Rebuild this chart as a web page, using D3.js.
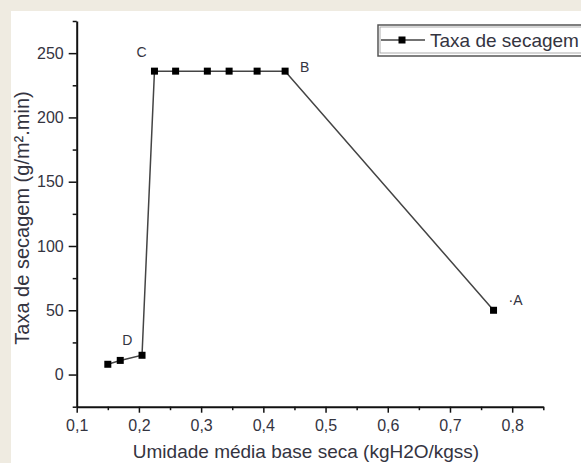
<!DOCTYPE html>
<html>
<head>
<meta charset="utf-8">
<script src="https://cdn.jsdelivr.net/npm/d3@7"></script>
<style>
  body { margin: 0; background: #efebe1; }
  svg { display: block; font-family: Arial, "Liberation Sans", sans-serif; }
  .axis path, .axis line { stroke: #111; }
  .axis text { fill: #34343f; font-size: 16px; }
</style>
</head>
<body>
<div id="plot"></div>
<script>
// Data
const moisture = [0.15, 0.17, 0.205, 0.225, 0.259, 0.31, 0.345, 0.39, 0.435, 0.77];
const rate = [8, 11, 15, 236, 236, 236, 236, 236, 236, 50];
const xTicks = [0.1, 0.2, 0.3, 0.4, 0.5, 0.6, 0.7, 0.8];
const xMinor = [0.15, 0.25, 0.35, 0.45, 0.55, 0.65, 0.75, 0.85];
const yTicks = [0, 50, 100, 150, 200, 250];
const yMinor = [-25, 25, 75, 125, 175, 225, 275];
// point labels: letter, index of the point it sits next to
const pointLabels = [
  { text: "C", idx: 3, dx: -13, dy: -14, anchor: "middle" },
  { text: "B", idx: 8, dx: 15, dy: 1, anchor: "start" },
  { text: "·A", idx: 9, dx: 15, dy: -5, anchor: "start" },
  { text: "D", idx: 1, dx: 7, dy: -15, anchor: "middle" }
];
const seriesName = "Taxa de secagem";

const W = 581, H = 463;
const svg = d3.select("#plot").append("svg")
  .attr("width", W).attr("height", H);

// white panel
svg.append("rect")
  .attr("x", 11).attr("y", 11)
  .attr("width", W - 11).attr("height", H - 11)
  .attr("fill", "#fff");

const x = d3.scaleLinear().domain([0.1, 0.85]).range([76.7, 543.3]);
const y = d3.scaleLinear().domain([-25, 275]).range([406.7, 21]);

const comma = d3.formatLocale({ decimal: ",", thousands: ".", grouping: [3], currency: ["", ""] });
const fmtX = comma.format(".1f");

// minor ticks
svg.append("g")
  .attr("class", "axis")
  .attr("transform", `translate(0,${y(-25)})`)
  .call(d3.axisBottom(x).tickValues(xMinor).tickSize(3.5).tickFormat(""))
  .call(g => g.select(".domain").remove())
  .selectAll("line").attr("stroke-width", 1.5);

svg.append("g")
  .attr("class", "axis")
  .attr("transform", `translate(${x(0.1)},0)`)
  .call(d3.axisLeft(y).tickValues(yMinor).tickSize(4).tickFormat(""))
  .call(g => g.select(".domain").remove())
  .selectAll("line").attr("stroke-width", 1.5);

// major axes
const xAxis = svg.append("g")
  .attr("class", "axis")
  .attr("transform", `translate(0,${y(-25)})`)
  .call(d3.axisBottom(x).tickValues(xTicks).tickSize(6).tickSizeOuter(0).tickPadding(7).tickFormat(fmtX));
xAxis.select(".domain").attr("stroke-width", 2);
xAxis.selectAll("line").attr("stroke-width", 1.5);

const yAxis = svg.append("g")
  .attr("class", "axis")
  .attr("transform", `translate(${x(0.1)},0)`)
  .call(d3.axisLeft(y).tickValues(yTicks).tickSize(8).tickSizeOuter(0).tickPadding(5));
yAxis.select(".domain").attr("stroke-width", 2);
yAxis.selectAll("line").attr("stroke-width", 1.5);

// axis titles
svg.append("text")
  .attr("x", 306).attr("y", 458)
  .attr("text-anchor", "middle")
  .attr("fill", "#34343f")
  .style("font-size", "19px")
  .text("Umidade média base seca (kgH2O/kgss)");

svg.append("text")
  .attr("transform", "translate(29,218) rotate(-90)")
  .attr("text-anchor", "middle")
  .attr("fill", "#34343f")
  .style("font-size", "20px")
  .text("Taxa de secagem (g/m².min)");

// line + markers
const pts = moisture.map((m, i) => ({ m, r: rate[i] }));
svg.append("path")
  .datum(pts)
  .attr("fill", "none")
  .attr("stroke", "#444")
  .attr("stroke-width", 1.5)
  .attr("d", d3.line().x(d => x(d.m)).y(d => y(d.r)));

const ms = 7;
svg.selectAll(".pt")
  .data(pts)
  .enter().append("rect")
  .attr("class", "pt")
  .attr("x", d => x(d.m) - ms / 2)
  .attr("y", d => y(d.r) - ms / 2)
  .attr("width", ms).attr("height", ms)
  .attr("fill", "#000");

// point letters
svg.selectAll(".lbl")
  .data(pointLabels)
  .enter().append("text")
  .attr("class", "lbl")
  .attr("x", d => x(moisture[d.idx]) + d.dx)
  .attr("y", d => y(rate[d.idx]) + d.dy)
  .attr("text-anchor", d => d.anchor)
  .attr("fill", "#34343f")
  .style("font-size", "14px")
  .text(d => d.text);

// legend
const lg = svg.append("g").attr("transform", "translate(378,25)");
lg.append("rect")
  .attr("x", 0).attr("y", 0).attr("width", 220).attr("height", 31)
  .attr("fill", "#fff").attr("stroke", "#555").attr("stroke-width", 1.5);
lg.append("rect")
  .attr("x", 2).attr("y", 2).attr("width", 216).attr("height", 26)
  .attr("fill", "none").attr("stroke", "#999").attr("stroke-width", 0.8);
lg.append("line")
  .attr("x1", 3).attr("x2", 47).attr("y1", 15).attr("y2", 15)
  .attr("stroke", "#444").attr("stroke-width", 1.4);
lg.append("rect")
  .attr("x", 24 - 3.5).attr("y", 15 - 3.5).attr("width", 7).attr("height", 7)
  .attr("fill", "#000");
lg.append("text")
  .attr("x", 52).attr("y", 22)
  .attr("fill", "#34343f")
  .style("font-size", "19px")
  .text(seriesName);
</script>
</body>
</html>
